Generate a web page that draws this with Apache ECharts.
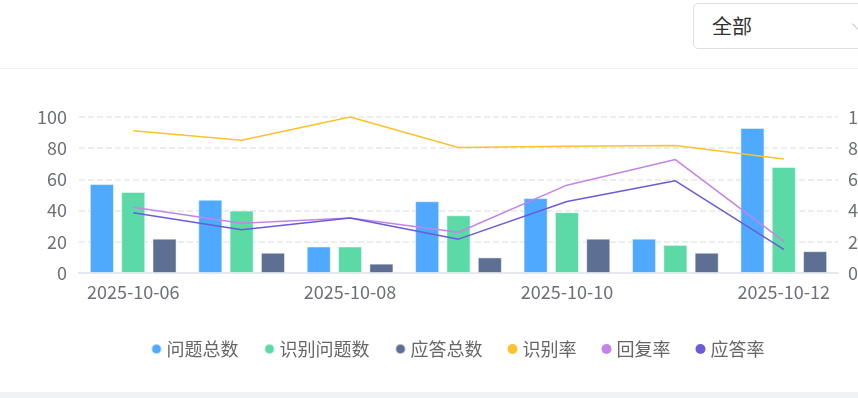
<!DOCTYPE html>
<html>
<head>
<meta charset="utf-8">
<script src="https://cdn.jsdelivr.net/npm/echarts@6/dist/echarts.min.js"></script>
<style>
    html, body { margin: 0; padding: 0; background: #fff; overflow: hidden; width: 858px; height: 398px; }
    .page { position: relative; width: 915px; height: 398px; font-family: 'Microsoft YaHei', 'Noto Sans CJK SC', sans-serif; }
    .toolbar { position: absolute; left: 0; top: 0; width: 915px; height: 68px; border-bottom: 1px solid #ebeef5; }
    .select { position: absolute; left: 693px; top: 3px; width: 190px; height: 46px; box-sizing: border-box;
        border: 1px solid #dcdfe6; border-radius: 5px; font-size: 20px; color: #303133; line-height: 44px; padding-left: 18px; }
    .select .arrow { position: absolute; right: 18px; top: 15px; width: 9px; height: 9px;
        border-right: 1.5px solid #c0c4cc; border-bottom: 1.5px solid #c0c4cc; transform: rotate(45deg); }
    #mychart { position: absolute; left: 0; top: 69px; width: 915px; height: 323px; }
    .footer { position: absolute; left: 0; top: 392px; width: 915px; height: 6px; background: #f0f2f5; }
</style>
</head>
<body>
<div class="page">
    <div class="toolbar">
        <div class="select">全部<span class="arrow"></span></div>
    </div>
    <div id="mychart"></div>
    <div class="footer"></div>
</div>
<script>
"use strict";
const dates = ['2025-10-06', '2025-10-07', '2025-10-08', '2025-10-09', '2025-10-10', '2025-10-11', '2025-10-12'];
const questionTotal = [57, 47, 17, 46, 48, 22, 93];
const recognizedTotal = [52, 40, 17, 37, 39, 18, 68];
const answerTotal = [22, 13, 6, 10, 22, 13, 14];
// rates in percent
const recognizeRate = [91.2, 85.1, 100, 80.4, 81.3, 81.8, 73.1];
const replyRate = [42.1, 31.9, 35.3, 26.1, 56.3, 72.7, 20.4];
const answerRate = [38.6, 27.7, 35.3, 21.7, 45.8, 59.1, 15.1];

const colors = ['#4ea9ff', '#5bd9a6', '#5d7093', '#f9c22e', '#c384e8', '#6c5bd7'];
const fontFamily = "'Microsoft YaHei', 'Noto Sans CJK SC', sans-serif";

const container = document.getElementById('mychart');
const myChart = echarts.init(container);

function barSeries(name, data) {
    return {
        name,
        type: 'bar',
        yAxisIndex: 0,
        barGap: '30%',
        barCategoryGap: '20%',
        itemStyle: {
            borderColor: 'rgba(255,255,255,0.5)',
            borderWidth: 1
        },
        data
    };
}
function lineSeries(name, data) {
    return {
        name,
        type: 'line',
        yAxisIndex: 1,
        showSymbol: false,
        symbol: 'circle',
        lineStyle: { width: 1.5 },
        data
    };
}

const option = {
    color: colors,
    textStyle: { fontFamily },
    grid: {
        left: 79,
        right: 77,
        top: 48,
        bottom: 119
    },
    legend: {
        top: 266,
        left: 'center',
        icon: 'circle',
        itemWidth: 10,
        itemHeight: 10,
        itemGap: 25,
        textStyle: { fontSize: 18, color: '#666', fontFamily }
    },
    xAxis: {
        type: 'category',
        data: dates,
        axisTick: { show: false },
        axisLine: { lineStyle: { color: '#e6e8ee', width: 2 } },
        axisLabel: {
            interval: 1,
            fontSize: 18,
            color: '#6e7079',
            margin: 10,
            fontFamily
        }
    },
    yAxis: [
        {
            type: 'value',
            min: 0,
            max: 100,
            interval: 20,
            axisLine: { show: false },
            axisTick: { show: false },
            axisLabel: { fontSize: 18, color: '#6e7079', margin: 12, fontFamily },
            splitLine: { lineStyle: { type: 'dashed', color: '#e8e8e8', width: 1.5 } }
        },
        {
            type: 'value',
            min: 0,
            max: 100,
            interval: 20,
            axisLine: { show: false },
            axisTick: { show: false },
            axisLabel: { fontSize: 18, color: '#6e7079', margin: 10, formatter: '{value}%', fontFamily },
            splitLine: { show: false }
        }
    ],
    series: [
        barSeries('问题总数', questionTotal),
        barSeries('识别问题数', recognizedTotal),
        barSeries('应答总数', answerTotal),
        lineSeries('识别率', recognizeRate),
        lineSeries('回复率', replyRate),
        lineSeries('应答率', answerRate)
    ]
};
myChart.setOption(option);
</script>
</body>
</html>
